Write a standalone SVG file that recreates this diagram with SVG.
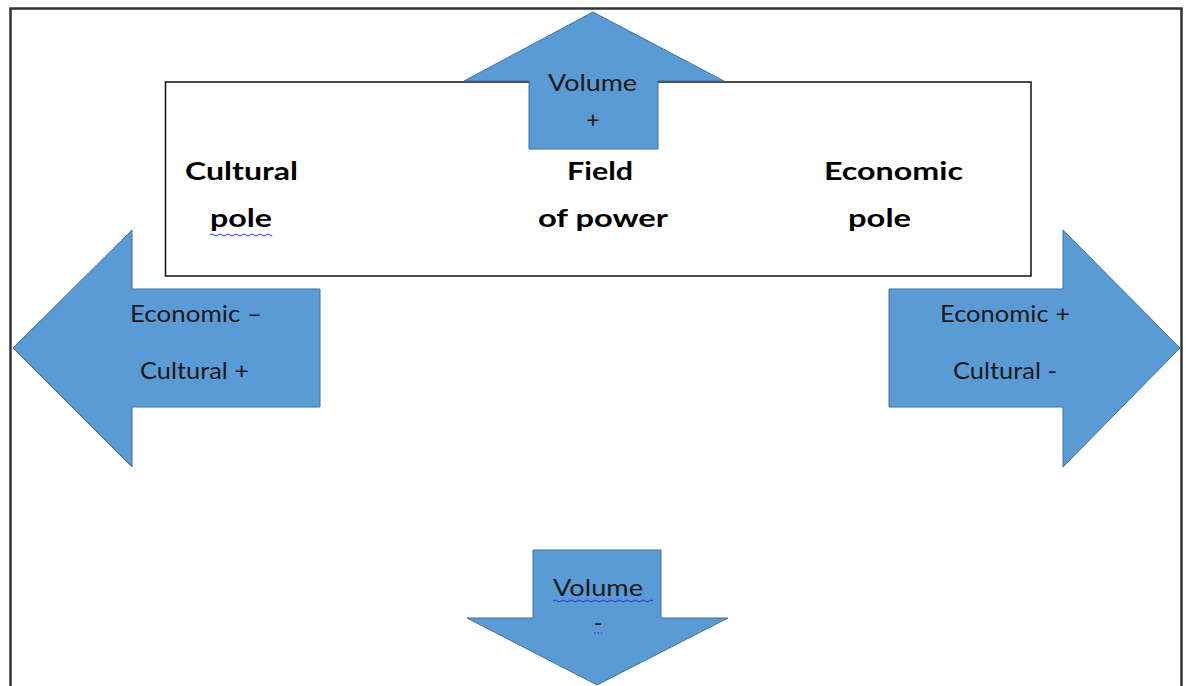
<svg xmlns="http://www.w3.org/2000/svg" width="1186" height="686" viewBox="0 0 1186 686">
  <defs>
    <style>
      .arrow { fill: #5B9BD5; stroke: #41719C; stroke-width: 1; }
      .lbl { font-family: Lato, "Open Sans", "Liberation Sans", sans-serif; font-size: 23px; fill: #1a1a1a; }
      .bold { font-family: Lato, "Open Sans", "Liberation Sans", sans-serif; font-size: 24px; font-weight: bold; fill: #000; }
      .squig { fill: none; stroke: #2b2bd9; stroke-width: 1; }
    </style>
  </defs>
  <rect width="1186" height="686" fill="#fff"/>
  <path d="M10.5 690 V8.5 H1181.5 V690" fill="none" stroke="#333" stroke-width="2.5"/>

  <g id="field-of-power">
    <rect x="165.5" y="82" width="865.5" height="194" fill="#fff" stroke="#111" stroke-width="1.5"/>
    <text class="bold" x="185" y="180" textLength="113" lengthAdjust="spacingAndGlyphs">Cultural</text>
    <text class="bold" x="210" y="227" textLength="62" lengthAdjust="spacingAndGlyphs">pole</text>
    <text class="bold" x="567" y="180" textLength="66" lengthAdjust="spacingAndGlyphs">Field</text>
    <text class="bold" x="538" y="227" textLength="130" lengthAdjust="spacingAndGlyphs">of power</text>
    <text class="bold" x="824" y="180" textLength="139" lengthAdjust="spacingAndGlyphs">Economic</text>
    <text class="bold" x="848" y="227" textLength="63" lengthAdjust="spacingAndGlyphs">pole</text>
    <path class="squig" d="M210 235 q2 -2 4 0 t4 0 t4 0 t4 0 t4 0 t4 0 t4 0 t4 0 t4 0 t4 0 t4 0 t4 0 t4 0 t4 0 t4 0 t2 0"/>
  </g>

  <g id="arrow-up">
    <polygon class="arrow" points="593,12 724,81 658,81 658,149 529,149 529,81 464,81"/>
    <text class="lbl" x="548" y="91" textLength="89" lengthAdjust="spacingAndGlyphs">Volume</text>
    <text class="lbl" x="593" y="128" text-anchor="middle">+</text>
  </g>

  <g id="arrow-left">
    <polygon class="arrow" points="13,348 132,230 132,289 320,289 320,407 132,407 132,467"/>
    <text class="lbl" x="130" y="322" textLength="132" lengthAdjust="spacingAndGlyphs">Economic –</text>
    <text class="lbl" x="140" y="379" textLength="109" lengthAdjust="spacingAndGlyphs">Cultural +</text>
  </g>

  <g id="arrow-right">
    <polygon class="arrow" points="1180,348 1063,230 1063,289 889,289 889,407 1063,407 1063,467"/>
    <text class="lbl" x="940" y="322" textLength="130" lengthAdjust="spacingAndGlyphs">Economic +</text>
    <text class="lbl" x="953" y="379" textLength="104" lengthAdjust="spacingAndGlyphs">Cultural -</text>
  </g>

  <g id="arrow-down">
    <polygon class="arrow" points="597,685 728,618 661,618 661,550 533,550 533,618 467,618"/>
    <text class="lbl" x="553" y="596" textLength="90" lengthAdjust="spacingAndGlyphs">Volume</text>
    <text class="lbl" x="598" y="631" text-anchor="middle">-</text>
    <path class="squig" d="M553 601 q2 -2 4 0 t4 0 t4 0 t4 0 t4 0 t4 0 t4 0 t4 0 t4 0 t4 0 t4 0 t4 0 t4 0 t4 0 t4 0 t4 0 t4 0 t4 0 t4 0 t4 0 t4 0 t4 0 t4 0 t4 0 t4 0"/>
    <path d="M594 633 H602" stroke="#2b2bd9" stroke-width="1" stroke-dasharray="1.5,2"/>
  </g>

  <g id="connectors"></g>
</svg>
